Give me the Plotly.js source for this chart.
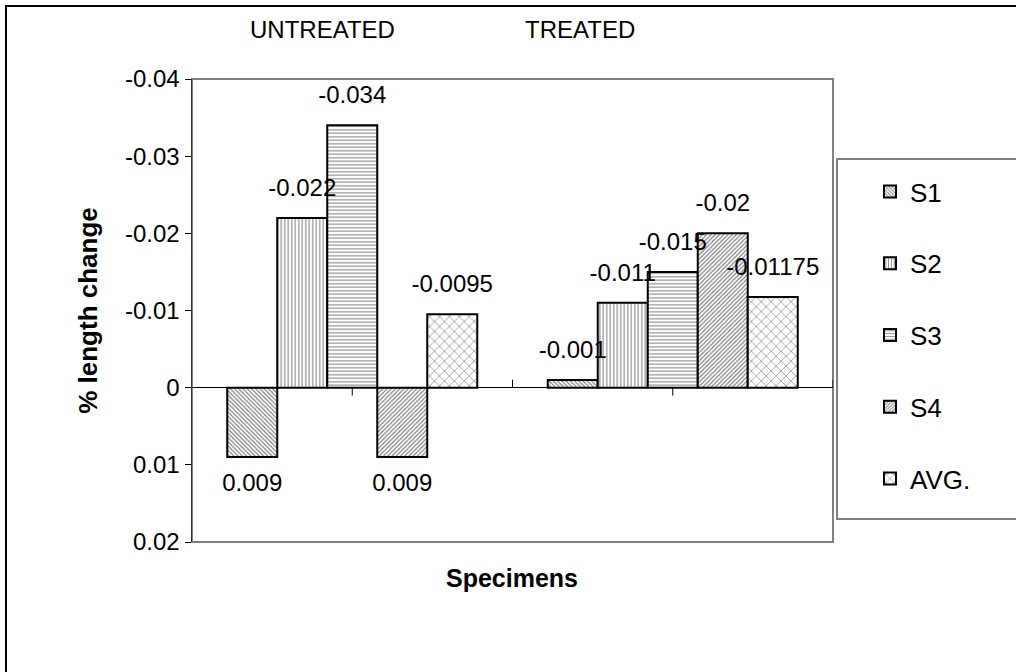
<!DOCTYPE html>
<html>
<head>
<meta charset="utf-8">
<script src="https://cdn.plot.ly/plotly-3.0.1.min.js"></script>
<style>
html,body{margin:0;padding:0;background:#fff;}
#chart{width:1016px;height:672px;}
</style>
</head>
<body>
<div id="chart"></div>
<script>
// ---- data ----
var categories = ['UNTREATED', 'TREATED'];
var seriesNames = ['S1', 'S2', 'S3', 'S4', 'AVG.'];
var s1 = [0.009, -0.001];
var s2 = [-0.022, -0.011];
var s3 = [-0.034, -0.015];
var s4 = [0.009, -0.02];
var avg = [-0.0095, -0.01175];
var yTickVals = [-0.04, -0.03, -0.02, -0.01, 0, 0.01, 0.02];

// ---- styles ----
var FONT = '"Liberation Sans", Arial, sans-serif';
var seriesValues = [s1, s2, s3, s4, avg];
var patterns = [
  {shape: '\\', size: 3, solidity: 0.4},
  {shape: '|', size: 3.5, solidity: 0.3},
  {shape: '-', size: 3.5, solidity: 0.3},
  {shape: '/', size: 3, solidity: 0.4},
  {shape: 'x', size: 7, solidity: 0.18}
];

var traces = [];
seriesValues.forEach(function (vals, i) {
  traces.push({
    type: 'bar',
    name: seriesNames[i],
    x: categories,
    y: vals,
    legendgroup: 'g' + i,
    marker: {
      color: '#ffffff',
      line: {color: '#000000', width: 2},
      pattern: {shape: patterns[i].shape, size: patterns[i].size, solidity: patterns[i].solidity,
                fgcolor: '#000000', bgcolor: '#ffffff', fillmode: 'overlay'}
    },
    hoverinfo: 'skip'
  });
});
// data labels
seriesValues.forEach(function (vals, i) {
  traces.push({
    type: 'scatter',
    mode: 'markers+text',
    x: categories,
    y: vals,
    text: vals.map(function (v) { return String(v); }),
    textposition: vals.map(function (v) { return v < 0 ? 'top center' : 'bottom center'; }),
    textfont: {family: FONT, size: 24, color: '#000000'},
    marker: {size: 24, opacity: 0},
    showlegend: false,
    cliponaxis: false,
    hoverinfo: 'skip'
  });
});

var W = 641, H = 463, L = 192, T = 79;
function px(X) { return (X - L) / W; }
function py(Y) { return (T + H - Y) / H; }

var shapes = [
  // outer chart border
  {type: 'rect', xref: 'paper', yref: 'paper', x0: px(6), x1: px(1030), y0: py(690), y1: py(6),
   line: {color: '#000000', width: 2}},
  // plot area border
  {type: 'rect', xref: 'paper', yref: 'paper', x0: 0, x1: 1, y0: 0, y1: 1,
   line: {color: '#808080', width: 2}, layer: 'below'},
  // legend box
  {type: 'rect', xref: 'paper', yref: 'paper', x0: px(837), x1: px(1035), y0: py(519), y1: py(159),
   line: {color: '#808080', width: 2}},
  // category axis tick marks on the zero line
  {type: 'line', xref: 'x', yref: 'y', ysizemode: 'pixel', yanchor: 0, x0: 0.5, x1: 0.5, y0: 0, y1: 8,
   line: {color: '#000000', width: 1}},
  {type: 'line', xref: 'x', yref: 'y', ysizemode: 'pixel', yanchor: 0, x0: 1.5, x1: 1.5, y0: 0, y1: 8,
   line: {color: '#000000', width: 1}},
  {type: 'line', xref: 'x', yref: 'y', ysizemode: 'pixel', yanchor: 0, x0: 0, x1: 0, y0: 0, y1: -8,
   line: {color: '#000000', width: 1}},
  {type: 'line', xref: 'x', yref: 'y', ysizemode: 'pixel', yanchor: 0, x0: 1, x1: 1, y0: 0, y1: -8,
   line: {color: '#000000', width: 1}}
];

var layout = {
  width: 1016, height: 672,
  margin: {l: L, r: 1016 - L - W, t: T, b: 672 - T - H, pad: 0},
  paper_bgcolor: '#ffffff', plot_bgcolor: '#ffffff',
  font: {family: FONT, color: '#000000', size: 21},
  barmode: 'group', bargap: 0.22, bargroupgap: 0,
  scattermode: 'group', scattergap: 0.22,
  showlegend: true,
  legend: {
    x: px(870), y: py(168), xanchor: 'left', yanchor: 'top',
    font: {family: FONT, size: 26, color: '#000000'},
    bgcolor: 'rgba(0,0,0,0)', borderwidth: 0,
    tracegroupgap: 35, traceorder: 'grouped'
  },
  xaxis: {
    type: 'category',
    range: [-0.5, 1.5],
    showgrid: false, zeroline: false, showline: false, ticks: '',
    showticklabels: false
  },
  yaxis: {
    range: [0.02, -0.04],
    tickvals: yTickVals,
    ticktext: yTickVals.map(function (v) { return String(v); }),
    ticks: 'outside', ticklen: 6, tickwidth: 1, tickcolor: '#000000',
    showgrid: false,
    showline: true, linecolor: '#333333', linewidth: 1.5,
    zeroline: true, zerolinecolor: '#000000', zerolinewidth: 1.5,
    tickfont: {family: FONT, size: 24, color: '#000000'},
    title: {text: '% length change', font: {family: FONT, size: 26, color: '#000000', weight: 'bold'}, standoff: 20}
  },
  annotations: [
    {text: categories[0], xref: 'paper', yref: 'paper', x: px(322), y: py(30), xanchor: 'center', yanchor: 'middle',
     showarrow: false, font: {family: FONT, size: 24, color: '#000000'}},
    {text: categories[1], xref: 'paper', yref: 'paper', x: px(580), y: py(30), xanchor: 'center', yanchor: 'middle',
     showarrow: false, font: {family: FONT, size: 24, color: '#000000'}},
    {text: 'Specimens', xref: 'paper', yref: 'paper', x: px(512), y: py(578), xanchor: 'center', yanchor: 'middle',
     showarrow: false, font: {family: FONT, size: 25, color: '#000000', weight: 'bold'}}
  ],
  shapes: shapes
};

Plotly.newPlot('chart', traces, layout, {staticPlot: true, displayModeBar: false});
</script>
</body>
</html>
